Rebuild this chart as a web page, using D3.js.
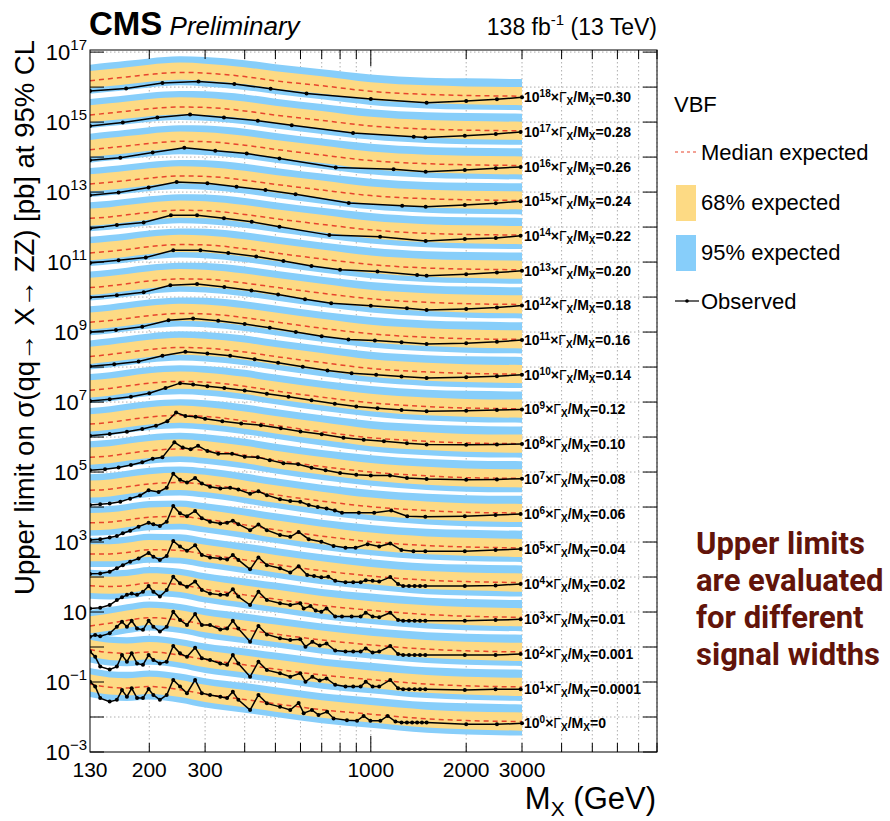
<!DOCTYPE html>
<html>
<head>
<meta charset="utf-8">
<script src="https://cdn.jsdelivr.net/npm/d3@7"></script>
<style>
  body { margin: 0; background: #fff; }
  svg { display: block; font-family: "Liberation Sans", Arial, Helvetica, sans-serif; }
</style>
</head>
<body>
<script>
// width hypotheses, bottom (x10^0) to top (x10^18)
const widthLabels = ["0", "0.0001", "0.001", "0.01", "0.02", "0.04", "0.06", "0.08", "0.10", "0.12",
  "0.14", "0.16", "0.18", "0.20", "0.22", "0.24", "0.26", "0.28", "0.30"];
const scalePowers = [0, 1, 2, 3, 4, 5, 6, 7, 8, 9, 10, 11, 12, 13, 14, 15, 16, 17, 18];

// expected limits, log10(sigma / pb), sampled at these masses
const expMass = [130, 150, 170, 200, 250, 300, 400, 500, 700, 1000, 1500, 2000, 3000];
const expMedianLog = [
  [-1.06, -1.15, -1.17, -1.13, -1.22, -1.35, -1.50, -1.62, -1.79, -1.92, -2.05, -2.10, -2.13],
  [-1.07, -1.16, -1.18, -1.14, -1.23, -1.36, -1.51, -1.63, -1.80, -1.93, -2.06, -2.11, -2.14],
  [-1.40, -1.32, -1.24, -1.16, -1.23, -1.36, -1.51, -1.63, -1.80, -1.94, -2.06, -2.11, -2.14],
  [-1.25, -1.27, -1.25, -1.17, -1.22, -1.35, -1.51, -1.63, -1.81, -1.95, -2.07, -2.12, -2.15],
  [-1.34, -1.34, -1.30, -1.22, -1.24, -1.35, -1.51, -1.64, -1.82, -1.97, -2.09, -2.13, -2.16],
  [-1.45, -1.43, -1.37, -1.29, -1.27, -1.35, -1.51, -1.65, -1.83, -1.99, -2.10, -2.14, -2.17],
  [-1.52, -1.49, -1.42, -1.34, -1.30, -1.35, -1.51, -1.65, -1.83, -1.99, -2.10, -2.15, -2.17],
  [-1.58, -1.54, -1.47, -1.39, -1.34, -1.38, -1.52, -1.66, -1.84, -2.00, -2.11, -2.16, -2.18],
  [-1.63, -1.58, -1.51, -1.43, -1.38, -1.41, -1.54, -1.67, -1.85, -2.02, -2.12, -2.17, -2.19],
  [-1.66, -1.61, -1.54, -1.46, -1.41, -1.43, -1.55, -1.68, -1.86, -2.02, -2.13, -2.17, -2.19],
  [-1.70, -1.64, -1.58, -1.50, -1.44, -1.46, -1.57, -1.70, -1.87, -2.04, -2.14, -2.18, -2.20],
  [-1.72, -1.67, -1.61, -1.53, -1.47, -1.48, -1.59, -1.71, -1.89, -2.05, -2.15, -2.19, -2.21],
  [-1.73, -1.68, -1.62, -1.54, -1.48, -1.49, -1.60, -1.72, -1.89, -2.05, -2.15, -2.19, -2.21],
  [-1.74, -1.69, -1.64, -1.56, -1.50, -1.51, -1.62, -1.74, -1.91, -2.07, -2.17, -2.20, -2.22],
  [-1.75, -1.71, -1.65, -1.58, -1.52, -1.53, -1.64, -1.76, -1.92, -2.08, -2.18, -2.21, -2.23],
  [-1.77, -1.72, -1.67, -1.60, -1.54, -1.55, -1.66, -1.78, -1.94, -2.10, -2.19, -2.22, -2.24],
  [-1.79, -1.73, -1.68, -1.61, -1.55, -1.56, -1.66, -1.78, -1.94, -2.10, -2.19, -2.22, -2.24],
  [-1.80, -1.74, -1.69, -1.62, -1.57, -1.58, -1.68, -1.80, -1.95, -2.11, -2.20, -2.23, -2.25],
  [-1.82, -1.76, -1.71, -1.64, -1.58, -1.60, -1.70, -1.82, -1.96, -2.12, -2.21, -2.24, -2.26]
];
// band edges relative to the median, in decades
const band95Lo = [-0.37, -0.37, -0.37, -0.37, -0.37, -0.38, -0.38, -0.38, -0.39, -0.39, -0.40, -0.40, -0.40];
const band68Lo = [-0.21, -0.21, -0.21, -0.21, -0.21, -0.22, -0.22, -0.23, -0.23, -0.24, -0.25, -0.25, -0.26];
const band68Hi = [0.28, 0.28, 0.28, 0.28, 0.28, 0.27, 0.27, 0.27, 0.27, 0.26, 0.26, 0.26, 0.26];
const band95Hi = [0.46, 0.46, 0.46, 0.46, 0.46, 0.46, 0.47, 0.47, 0.47, 0.48, 0.48, 0.49, 0.49];

// observed limits: [mass GeV, log10(sigma / pb)]
const obsW0 = [[130,-0.99],[135,-1.13],[140,-1.46],[150,-1.56],[158,-1.51],[164,-1.23],[170,-1.42],[176,-1.18],[183,-1.46],[191,-1.46],[199,-1.20],[206,-1.37],[216,-1.51],[227,-1.37],[238,-0.94],[250,-1.13],[263,-1.32],[279,-0.94],[293,-1.32],[311,-1.37],[335,-1.42],[352,-1.46],[367,-1.28],[382,-1.51],[416,-1.80],[442,-1.37],[470,-1.61],[517,-1.71],[557,-1.80],[592,-1.60],[614,-1.89],[652,-1.80],[684,-1.94],[728,-1.85],[763,-2.04],[841,-2.09],[905,-2.11],[949,-1.97],[997,-2.11],[1072,-2.11],[1130,-1.97],[1196,-2.13],[1250,-2.16],[1300,-2.16],[1350,-2.16],[1400,-2.16],[1450,-2.16],[1500,-2.16],[2000,-2.21],[2500,-2.21],[3000,-2.18]];
const obsW1 = [[130,-1.13],[135,-1.28],[140,-1.56],[150,-1.64],[158,-1.56],[164,-1.23],[170,-1.42],[176,-1.18],[183,-1.47],[191,-1.51],[199,-1.23],[206,-1.37],[216,-1.47],[227,-1.42],[238,-0.97],[250,-1.18],[263,-1.28],[279,-1.02],[293,-1.32],[311,-1.37],[335,-1.47],[352,-1.51],[367,-1.23],[382,-1.47],[416,-1.85],[442,-1.42],[470,-1.66],[517,-1.75],[557,-1.85],[599,-1.75],[622,-1.99],[654,-1.85],[690,-1.96],[725,-1.90],[772,-2.08],[832,-2.13],[880,-2.13],[929,-2.13],[964,-1.99],[1013,-2.13],[1063,-2.13],[1152,-1.94],[1219,-2.18],[1265,-2.21],[1320,-2.21],[1375,-2.21],[1430,-2.21],[1486,-2.21],[1980,-2.23],[2476,-2.21],[2970,-2.21]];
const obsW2 = [[130,-1.71],[135,-1.66],[140,-1.69],[150,-1.61],[158,-1.42],[164,-1.28],[170,-1.42],[176,-1.25],[183,-1.47],[191,-1.51],[199,-1.25],[206,-1.42],[216,-1.56],[227,-1.42],[238,-0.99],[250,-1.23],[263,-1.37],[279,-1.06],[293,-1.37],[311,-1.37],[335,-1.50],[352,-1.47],[367,-1.25],[382,-1.47],[416,-1.85],[442,-1.40],[470,-1.64],[517,-1.75],[557,-1.80],[599,-1.78],[622,-1.99],[654,-1.85],[690,-1.96],[725,-1.90],[772,-2.10],[832,-2.13],[880,-2.13],[929,-2.13],[964,-2.04],[1013,-2.16],[1063,-2.13],[1152,-1.97],[1219,-2.20],[1265,-2.23],[1320,-2.23],[1375,-2.23],[1430,-2.23],[1486,-2.23],[1980,-2.23],[2476,-2.23],[2970,-2.20]];
const obsW3 = [[130,-1.90],[140,-1.88],[150,-1.80],[158,-1.66],[164,-1.58],[170,-1.51],[176,-1.47],[183,-1.51],[191,-1.42],[199,-1.26],[206,-1.42],[216,-1.56],[227,-1.37],[238,-0.99],[250,-1.18],[263,-1.28],[279,-1.13],[293,-1.37],[311,-1.47],[335,-1.51],[352,-1.51],[367,-1.35],[382,-1.56],[416,-1.80],[442,-1.42],[470,-1.66],[517,-1.75],[557,-1.80],[599,-1.75],[614,-1.90],[645,-1.83],[670,-1.96],[698,-1.99],[725,-1.90],[772,-2.13],[811,-2.13],[870,-2.13],[929,-2.13],[964,-2.02],[1013,-2.13],[1063,-2.15],[1152,-2.02],[1219,-2.23],[1265,-2.25],[1320,-2.25],[1375,-2.25],[1430,-2.25],[1486,-2.25],[1980,-2.25],[2476,-2.23],[2970,-2.21]];
const obsW4 = [[130,-1.91],[140,-1.90],[150,-1.85],[158,-1.75],[165,-1.66],[174,-1.56],[185,-1.47],[199,-1.31],[206,-1.42],[216,-1.51],[227,-1.40],[238,-0.97],[250,-1.13],[263,-1.25],[279,-1.09],[293,-1.37],[311,-1.44],[335,-1.47],[352,-1.50],[367,-1.37],[382,-1.51],[416,-1.78],[442,-1.44],[470,-1.66],[517,-1.75],[557,-1.87],[592,-1.69],[630,-1.94],[662,-1.97],[698,-2.01],[734,-1.99],[772,-2.11],[832,-2.15],[880,-2.15],[929,-2.15],[964,-2.09],[1013,-2.11],[1063,-2.13],[1152,-2.00],[1219,-2.20],[1265,-2.26],[1320,-2.26],[1375,-2.26],[1430,-2.26],[1486,-2.26],[1980,-2.26],[2476,-2.24],[2970,-2.20]];
const obsW5 = [[130,-1.94],[140,-1.92],[150,-1.87],[158,-1.83],[165,-1.75],[174,-1.68],[185,-1.56],[199,-1.45],[206,-1.49],[216,-1.54],[227,-1.42],[238,-0.97],[250,-1.18],[263,-1.26],[279,-1.11],[293,-1.32],[311,-1.42],[335,-1.47],[352,-1.45],[367,-1.39],[382,-1.49],[416,-1.66],[442,-1.50],[470,-1.66],[517,-1.80],[557,-1.85],[592,-1.71],[637,-1.92],[698,-1.99],[763,-2.11],[832,-2.16],[895,-2.16],[977,-2.06],[1063,-2.13],[1152,-2.04],[1249,-2.23],[1363,-2.26],[1486,-2.26],[1980,-2.26],[2476,-2.23],[2970,-2.20]];
const obsW6 = [[130,-1.94],[140,-1.92],[150,-1.90],[162,-1.85],[174,-1.76],[187,-1.67],[199,-1.52],[214,-1.57],[227,-1.45],[238,-1.05],[250,-1.22],[263,-1.30],[279,-1.17],[293,-1.33],[311,-1.42],[335,-1.47],[360,-1.45],[382,-1.50],[416,-1.62],[442,-1.55],[470,-1.66],[517,-1.78],[557,-1.83],[599,-1.85],[637,-1.94],[680,-2.00],[725,-2.04],[770,-2.10],[811,-2.16],[917,-2.16],[1025,-2.16],[1160,-2.10],[1303,-2.26],[1486,-2.28],[1980,-2.26],[2476,-2.23],[2970,-2.20]];
const obsW7 = [[130,-1.95],[145,-1.92],[160,-1.87],[175,-1.80],[190,-1.72],[205,-1.62],[220,-1.58],[240,-1.15],[255,-1.30],[270,-1.35],[285,-1.25],[305,-1.40],[330,-1.48],[365,-1.48],[400,-1.56],[440,-1.58],[480,-1.66],[530,-1.75],[590,-1.78],[650,-1.88],[720,-1.95],[800,-2.03],[900,-2.08],[1000,-2.10],[1150,-2.10],[1300,-2.17],[1500,-2.20],[2000,-2.22],[2500,-2.21],[3000,-2.19]];
const obsW8 = [[130,-1.96],[150,-1.91],[170,-1.85],[190,-1.77],[210,-1.68],[228,-1.55],[243,-1.30],[260,-1.40],[280,-1.42],[300,-1.48],[340,-1.55],[390,-1.61],[450,-1.66],[520,-1.75],[600,-1.84],[700,-1.92],[820,-2.02],[950,-2.08],[1100,-2.12],[1300,-2.18],[1500,-2.21],[2000,-2.22],[2500,-2.21],[3000,-2.20]];
const obsW9 = [[130,-1.97],[150,-1.92],[175,-1.85],[200,-1.75],[225,-1.60],[250,-1.46],[275,-1.50],[305,-1.55],[345,-1.60],[400,-1.67],[470,-1.76],[550,-1.85],[650,-1.95],[770,-2.05],[900,-2.13],[1050,-2.18],[1250,-2.23],[1500,-2.26],[2000,-2.25],[2500,-2.23],[3000,-2.21]];
const obsW10 = [[130,-1.98],[155,-1.92],[185,-1.84],[220,-1.68],[260,-1.56],[305,-1.61],[360,-1.68],[430,-1.78],[510,-1.88],[610,-1.99],[730,-2.10],[870,-2.18],[1040,-2.22],[1250,-2.27],[1500,-2.31],[2000,-2.29],[2500,-2.26],[3000,-2.22]];
const obsW11 = [[130,-2.00],[157,-1.94],[190,-1.85],[230,-1.66],[275,-1.61],[330,-1.68],[400,-1.77],[480,-1.88],[580,-2.00],[700,-2.12],[850,-2.21],[1030,-2.24],[1250,-2.29],[1500,-2.34],[2000,-2.32],[2500,-2.28],[3000,-2.23]];
const obsW12 = [[130,-2.01],[158,-1.95],[192,-1.86],[233,-1.66],[283,-1.63],[345,-1.71],[420,-1.81],[510,-1.93],[620,-2.06],[750,-2.18],[1000,-2.25],[1300,-2.32],[1500,-2.37],[2000,-2.34],[2500,-2.30],[3000,-2.24]];
const obsW13 = [[130,-2.03],[160,-1.95],[195,-1.87],[238,-1.66],[290,-1.66],[355,-1.74],[435,-1.84],[530,-1.97],[650,-2.11],[800,-2.22],[1050,-2.27],[1400,-2.37],[1500,-2.39],[2000,-2.35],[2500,-2.30],[3000,-2.25]];
const obsW14 = [[130,-2.04],[158,-1.94],[192,-1.87],[234,-1.66],[283,-1.66],[344,-1.75],[421,-1.85],[515,-1.99],[740,-2.23],[1070,-2.28],[1490,-2.40],[1980,-2.34],[2480,-2.31],[2970,-2.25]];
const obsW15 = [[130,-2.09],[160,-2.01],[199,-1.87],[244,-1.71],[305,-1.75],[377,-1.85],[465,-1.94],[579,-2.06],[852,-2.31],[1256,-2.39],[1490,-2.42],[1980,-2.37],[2480,-2.32],[2970,-2.26]];
const obsW16 = [[130,-2.09],[162,-2.02],[205,-1.87],[258,-1.73],[323,-1.82],[406,-1.90],[515,-2.04],[775,-2.30],[1180,-2.35],[1490,-2.42],[1980,-2.37],[2480,-2.32],[2970,-2.28]];
const obsW17 = [[130,-2.11],[165,-2.01],[212,-1.87],[269,-1.78],[344,-1.87],[440,-1.96],[563,-2.09],[879,-2.31],[1366,-2.42],[1486,-2.44],[1980,-2.39],[2480,-2.34],[2970,-2.28]];
const obsW18 = [[130,-2.11],[169,-2.04],[220,-1.88],[286,-1.84],[371,-1.91],[483,-2.05],[627,-2.18],[1000,-2.34],[1500,-2.45],[2000,-2.40],[2500,-2.35],[3000,-2.29]];
const observed = [obsW0, obsW1, obsW2, obsW3, obsW4, obsW5, obsW6, obsW7, obsW8, obsW9,
  obsW10, obsW11, obsW12, obsW13, obsW14, obsW15, obsW16, obsW17, obsW18];

const xTickLabels = [130, 200, 300, 1000, 2000, 3000];
const xGrid = [200, 300, 400, 500, 600, 700, 800, 900, 1000, 2000, 3000, 4000, 5000, 6000, 7000, 8000];
const yLabelExps = [17, 15, 13, 11, 9, 7, 5, 3, 1, -1, -3];

const W = 890, H = 821;
const frameL = 90, frameR = 657, frameT = 50, frameB = 752;

const svg = d3.select("body").append("svg")
  .attr("width", W)
  .attr("height", H);
svg.append("rect").attr("width", W).attr("height", H).attr("fill", "#fff");

const x = d3.scaleLog().domain([130, 8000]).range([frameL, frameR]);
const y = d3.scaleLog().domain([1e-3, Math.pow(10, 17.06)]).range([frameB, frameT]);
const p = (v, k) => y(Math.pow(10, v + k));

svg.append("clipPath").attr("id", "frame")
  .append("rect").attr("x", frameL).attr("y", frameT).attr("width", frameR - frameL).attr("height", frameB - frameT);

// grid
const grid = svg.append("g").attr("stroke", "#9a9a9a").attr("stroke-width", 0.8).attr("stroke-dasharray", "1.5,2.5");
grid.selectAll(".gx").data(xGrid).enter().append("line")
  .attr("x1", d => x(d)).attr("x2", d => x(d)).attr("y1", frameT).attr("y2", frameB);
grid.selectAll(".gy").data(d3.range(-2, 18)).enter().append("line")
  .attr("x1", frameL).attr("x2", frameR).attr("y1", d => y(Math.pow(10, d))).attr("y2", d => y(Math.pow(10, d)));

const plot = svg.append("g").attr("clip-path", "url(#frame)");

// bands
scalePowers.forEach((k, c) => {
  const med = expMedianLog[c];
  const area = (lo, hi) => d3.area()
    .x((d, i) => x(expMass[i]))
    .y0((d, i) => p(med[i] + lo[i], k))
    .y1((d, i) => p(med[i] + hi[i], k))
    .curve(d3.curveMonotoneX);
  plot.append("path").datum(expMass).attr("fill", "#87cefa").attr("d", area(band95Lo, band95Hi));
  plot.append("path").datum(expMass).attr("fill", "#fdda84").attr("d", area(band68Lo, band68Hi));
});

// medians
scalePowers.forEach((k, c) => {
  const med = expMedianLog[c];
  plot.append("path").datum(expMass)
    .attr("fill", "none").attr("stroke", "#e8452c").attr("stroke-width", 1.5)
    .attr("stroke-dasharray", "5,4")
    .attr("d", d3.line().x(d => x(d)).y((d, i) => p(med[i], k)).curve(d3.curveMonotoneX));
});

// observed
scalePowers.forEach((k, c) => {
  const obs = observed[c];
  plot.append("path").datum(obs)
    .attr("fill", "none").attr("stroke", "#000").attr("stroke-width", 1.5)
    .attr("d", d3.line().x(d => x(d[0])).y(d => p(d[1], k)));
  plot.selectAll(null).data(obs).enter().append("circle")
    .attr("cx", d => x(d[0])).attr("cy", d => p(d[1], k)).attr("r", 2).attr("fill", "#000");
});

// curve labels
scalePowers.forEach((k, c) => {
  const last = observed[c][observed[c].length - 1];
  const t = svg.append("text")
    .attr("x", 524).attr("y", p(last[1], k) + 5)
    .attr("font-size", 14).attr("font-weight", "bold").attr("fill", "#000");
  t.append("tspan").text("10");
  t.append("tspan").attr("font-size", 10).attr("dy", -5).text(k);
  t.append("tspan").attr("dy", 5).text("\u00d7");
  t.append("tspan").attr("font-weight", "normal").text("\u0393");
  t.append("tspan").attr("font-size", 10).attr("dy", 3).text("X");
  t.append("tspan").attr("dy", -3).text("/M");
  t.append("tspan").attr("font-size", 10).attr("dy", 3).text("X");
  t.append("tspan").attr("dy", -3).text("=" + widthLabels[c]);
});

// frame and ticks
const axes = svg.append("g").attr("stroke", "#000").attr("stroke-width", 1);
axes.append("rect").attr("x", frameL).attr("y", frameT).attr("width", frameR - frameL).attr("height", frameB - frameT)
  .attr("fill", "none");
axes.selectAll(".tx").data(xGrid).enter().append("line")
  .attr("x1", d => x(d)).attr("x2", d => x(d))
  .attr("y1", frameB).attr("y2", d => frameB - (d === 1000 ? 16 : 9));
axes.selectAll(".txt").data(xGrid).enter().append("line")
  .attr("x1", d => x(d)).attr("x2", d => x(d))
  .attr("y1", frameT).attr("y2", d => frameT + (d === 1000 ? 16 : 9));
axes.selectAll(".ty").data(d3.range(-3, 18)).enter().append("line")
  .attr("x1", frameL).attr("x2", frameL + 14)
  .attr("y1", d => y(Math.pow(10, d))).attr("y2", d => y(Math.pow(10, d)));
axes.selectAll(".tyr").data(d3.range(-3, 18)).enter().append("line")
  .attr("x1", frameR).attr("x2", frameR - 14)
  .attr("y1", d => y(Math.pow(10, d))).attr("y2", d => y(Math.pow(10, d)));

// x tick labels
svg.selectAll(".xl").data(xTickLabels).enter().append("text")
  .attr("x", d => x(d)).attr("y", 777).attr("text-anchor", "middle")
  .attr("font-size", 21).text(d => d);

// y tick labels
yLabelExps.forEach(e => {
  const t = svg.append("text").attr("x", 87).attr("y", y(Math.pow(10, e)) + 7.5)
    .attr("text-anchor", "end").attr("font-size", 22);
  t.append("tspan").text("10");
  if (e !== 1) {
    t.append("tspan").attr("font-size", 15).attr("dy", -10).text(e < 0 ? "\u2212" + (-e) : e);
  }
});

// axis titles
svg.append("text")
  .attr("transform", "translate(34,40) rotate(-90)")
  .attr("text-anchor", "end").attr("font-size", 27.5)
  .text("Upper limit on \u03c3(qq\u2192 X\u2192 ZZ) [pb] at 95% CL");

const xt = svg.append("text").attr("x", 656).attr("y", 809).attr("text-anchor", "end").attr("font-size", 31);
xt.append("tspan").text("M");
xt.append("tspan").attr("font-size", 21).attr("dy", 7).text("X");
xt.append("tspan").attr("dy", -7).text(" (GeV)");

// header
const hd = svg.append("text").attr("x", 89).attr("y", 35);
hd.append("tspan").attr("font-size", 33).attr("font-weight", "bold").text("CMS");
hd.append("tspan").attr("font-size", 26).attr("font-style", "italic").text(" Preliminary");
const lumi = svg.append("text").attr("x", 657).attr("y", 35).attr("text-anchor", "end").attr("font-size", 23);
lumi.append("tspan").text("138 fb");
lumi.append("tspan").attr("font-size", 15).attr("dy", -10).text("-1");
lumi.append("tspan").attr("dy", 10).text(" (13 TeV)");

// legend
const lg = svg.append("g").attr("font-size", 22);
lg.append("text").attr("x", 674).attr("y", 112).text("VBF");
lg.append("line").attr("x1", 675).attr("x2", 699).attr("y1", 152).attr("y2", 152)
  .attr("stroke", "#e8452c").attr("stroke-width", 1.2).attr("stroke-dasharray", "3,3");
lg.append("text").attr("x", 701).attr("y", 160).text("Median expected");
lg.append("rect").attr("x", 676).attr("y", 185).attr("width", 20).attr("height", 36).attr("fill", "#fdda84");
lg.append("text").attr("x", 701).attr("y", 210).text("68% expected");
lg.append("rect").attr("x", 676).attr("y", 235).attr("width", 20).attr("height", 36).attr("fill", "#87cefa");
lg.append("text").attr("x", 701).attr("y", 260).text("95% expected");
lg.append("line").attr("x1", 675).attr("x2", 699).attr("y1", 301).attr("y2", 301)
  .attr("stroke", "#000").attr("stroke-width", 1.2);
lg.append("circle").attr("cx", 687).attr("cy", 301).attr("r", 1.8).attr("fill", "#000");
lg.append("text").attr("x", 701).attr("y", 309).text("Observed");

// annotation
const note = ["Upper limits", "are evaluated", "for different", "signal widths"];
svg.selectAll(".note").data(note).enter().append("text")
  .attr("x", 696).attr("y", (d, i) => 554 + i * 37)
  .attr("font-family", "Roboto, sans-serif").attr("font-weight", "bold")
  .attr("font-size", 31).attr("fill", "#62140a").text(d => d);
</script>
</body>
</html>
